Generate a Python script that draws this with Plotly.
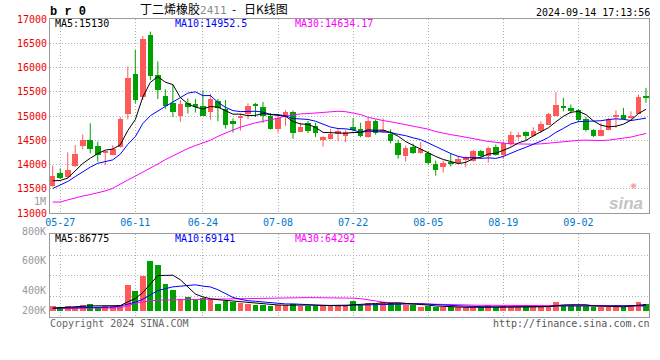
import plotly.graph_objects as go

# ---------------- data ----------------
dates = ["05-24", "05-27", "05-28", "05-29", "05-30", "05-31", "06-03", "06-04", "06-05", "06-06",
         "06-07", "06-11", "06-12", "06-13", "06-14", "06-17", "06-18", "06-19", "06-20", "06-21",
         "06-24", "06-25", "06-26", "06-27", "06-28", "07-01", "07-02", "07-03", "07-04", "07-05",
         "07-08", "07-09", "07-10", "07-11", "07-12", "07-15", "07-16", "07-17", "07-18", "07-19",
         "07-22", "07-23", "07-24", "07-25", "07-26", "07-29", "07-30", "07-31", "08-01", "08-02",
         "08-05", "08-06", "08-07", "08-08", "08-09", "08-12", "08-13", "08-14", "08-15", "08-16",
         "08-19", "08-20", "08-21", "08-22", "08-23", "08-26", "08-27", "08-28", "08-29", "08-30",
         "09-02", "09-03", "09-04", "09-05", "09-06", "09-09", "09-10", "09-11", "09-12", "09-13"]

opens = [13550, 13820, 13740, 13960, 14390, 14500, 14380, 14245, 14200, 14370,
         15040, 15860, 15390, 16660, 15840, 15410, 15270, 15000, 15260, 15240,
         15200, 15077, 15305, 15150, 14900, 14950, 15050, 15250, 15190, 15010,
         14730, 14980, 15080, 14680, 14850, 14800, 14510, 14530, 14620, 14590,
         14770, 14740, 14560, 14900, 14690, 14630, 14440, 14180, 14370, 14235,
         14240, 14010, 13940, 14040, 14040, 14100, 14080, 14280, 14170, 14370,
         14200, 14428, 14560, 14663, 14580, 14697, 14822, 15008, 15215, 15167,
         15132, 14939, 14718, 14594, 14718, 14980, 15029, 14973, 15049, 15408]
highs = [13980, 13920, 14250, 14400, 14620, 14850, 14470, 14255, 14400, 14980,
         16020, 16360, 16650, 16740, 16130, 15550, 15650, 15330, 15360, 15350,
         15530, 15460, 15353, 15330, 14950, 15050, 15260, 15270, 15290, 15060,
         15030, 15120, 15110, 14860, 14900, 14860, 14580, 14730, 14730, 14720,
         14960, 14860, 14960, 14925, 14950, 14725, 14510, 14390, 14430, 14460,
         14270, 14080, 14080, 14235, 14180, 14170, 14300, 14300, 14370, 14410,
         14477, 14684, 14663, 14684, 14767, 14891, 15063, 15491, 15374, 15236,
         15146, 14980, 14732, 14856, 14960, 15118, 15167, 15098, 15443, 15581]
lows = [13540, 13700, 13720, 13950, 14310, 14230, 14060, 13990, 14190, 14350,
        14930, 15260, 15330, 15740, 15350, 15150, 14980, 14880, 15050, 15070,
        15000, 14925, 14890, 14740, 14660, 14700, 14940, 14980, 14860, 14720,
        14660, 14800, 14530, 14670, 14650, 14570, 14370, 14510, 14480, 14460,
        14680, 14560, 14546, 14615, 14650, 14435, 14120, 14060, 14220, 14220,
        13990, 13770, 13835, 13960, 14010, 13945, 14060, 14130, 14040, 14180,
        14111, 14373, 14511, 14498, 14567, 14649, 14822, 15008, 15098, 15049,
        14870, 14684, 14567, 14580, 14704, 14753, 14925, 14925, 15049, 15270]
closes = [13770, 13730, 13890, 14210, 14500, 14320, 14200, 14252, 14320, 14940,
          15790, 15330, 16580, 15830, 15530, 15210, 15090, 15240, 15180, 15200,
          15010, 15353, 15167, 14820, 14840, 15010, 15200, 15200, 15010, 14730,
          14960, 15080, 14640, 14770, 14690, 14640, 14570, 14630, 14700, 14680,
          14720, 14580, 14900, 14640, 14710, 14476, 14190, 14350, 14240, 14320,
          14040, 13880, 14040, 14015, 14120, 14160, 14280, 14170, 14350, 14200,
          14442, 14615, 14615, 14594, 14697, 14836, 15042, 15236, 15160, 15111,
          14925, 14718, 14580, 14718, 14939, 14990, 14930, 14994, 15400, 15380]
volumes = [66000, 48000, 66000, 48000, 80000, 94000, 48000, 66000, 66000, 80000,
           360000, 276000, 486000, 696000, 640000, 374000, 290000, 164000, 188000, 150000,
           174000, 164000, 94000, 136000, 126000, 112000, 94000, 80000, 80000, 66000,
           80000, 80000, 94000, 70000, 70000, 66000, 66000, 66000, 66000, 80000,
           136000, 80000, 112000, 94000, 126000, 104000, 112000, 80000, 80000, 56000,
           66000, 48000, 48000, 48000, 48000, 48000, 48000, 48000, 80000, 48000,
           66000, 48000, 48000, 48000, 66000, 66000, 66000, 126000, 80000, 80000,
           66000, 66000, 48000, 48000, 48000, 80000, 48000, 80000, 126000, 94000]

# moving-average values before a full window exists
ma5_head = [13665, 13670, 13720, 13875]
ma10_head = [13505, 13570, 13650, 13750, 13855, 13945, 14025, 14060, 14095]
ma30_head = [13226, 13226, 13270, 13315, 13350, 13380, 13410, 13455, 13510, 13600,
             13680, 13760, 13840, 13930, 14010, 14100, 14180, 14260, 14330, 14390,
             14440, 14500, 14580, 14650, 14710, 14770, 14820, 14860, 14890]
vol_ma5_head = [36000, 40000, 46000, 52000]
vol_ma10_head = [34000, 35000, 36000, 37000, 38000, 40000, 42000, 46000, 52000]
vol_ma30_head = [32000, 32000, 32000, 32000, 32000, 32000, 32000, 32000, 32000, 40000,
                 70000, 105000, 125000, 140000, 148000, 150000, 152000, 154000, 156000, 158000,
                 160000, 162000, 164000, 166000, 168000, 170000, 172000, 175000, 178000]

tick_labels = ["05-27", "06-11", "06-24", "07-08", "07-22", "08-05", "08-19", "09-02"]
price_ticks = [13000, 13500, 14000, 14500, 15000, 15500, 16000, 16500, 17000]
vol_labels = ["800K", "600K", "400K", "200K"]

title_name = "丁二烯橡胶"
title_code = "2411"
title_tail = "日K线图"
timestamp = "2024-09-14 17:13:56"
ma_texts = ["MA5:15130", "MA10:14952.5", "MA30:14634.17"]
vol_ma_texts = ["MA5:86775", "MA10:69141", "MA30:64292"]

# ---------------- styles ----------------
RED = "#ff5a5a"
GREEN = "#00a000"
MONO = "DejaVu Sans Mono"
GRID = "#b0b0b0"
FRAME = "#9a9a9a"


def moving_average(values, n, head):
    out = list(head)
    for i in range(len(head), len(values)):
        out.append(sum(values[i - n + 1:i + 1]) / n)
    return out


idx = list(range(len(dates)))
up = [c >= o for o, c in zip(opens, closes)]
colors = [RED if u else GREEN for u in up]

fig = go.Figure()

# wicks
for flag, col in ((True, RED), (False, GREEN)):
    wx, wy = [], []
    for i in idx:
        if up[i] == flag:
            wx += [i, i, None]
            wy += [lows[i], highs[i], None]
    fig.add_trace(go.Scatter(x=wx, y=wy, mode="lines", line=dict(color=col, width=1),
                             hoverinfo="skip", xaxis="x", yaxis="y"))

# bodies
fig.add_trace(go.Bar(x=idx,
                     base=[min(o, c) for o, c in zip(opens, closes)],
                     y=[max(abs(c - o), 22) for o, c in zip(opens, closes)],
                     marker=dict(color=colors, line=dict(width=0)), width=0.74,
                     xaxis="x", yaxis="y"))

# price moving averages
for ma, col in ((moving_average(closes, 30, ma30_head), "#ff00ff"),
                (moving_average(closes, 10, ma10_head), "#0000ff"),
                (moving_average(closes, 5, ma5_head), "#000000")):
    fig.add_trace(go.Scatter(x=idx, y=ma, mode="lines", line=dict(color=col, width=1),
                             xaxis="x", yaxis="y"))

# volume
fig.add_trace(go.Bar(x=idx, y=volumes, marker=dict(color=colors, line=dict(width=0)),
                     width=0.76, xaxis="x2", yaxis="y2"))
for ma, col in ((moving_average(volumes, 30, vol_ma30_head), "#ff00ff"),
                (moving_average(volumes, 10, vol_ma10_head), "#0000ff"),
                (moving_average(volumes, 5, vol_ma5_head), "#000000")):
    fig.add_trace(go.Scatter(x=idx, y=ma, mode="lines", line=dict(color=col, width=1),
                             xaxis="x2", yaxis="y2"))

tick_pos = [dates.index(t) for t in tick_labels]

common_x = dict(range=[-0.36, 79.4], tickmode="array", tickvals=tick_pos,
                showgrid=True, gridcolor=GRID, griddash="1px,2px", gridwidth=1,
                showline=True, linecolor=FRAME, linewidth=1, mirror=True,
                ticks="", zeroline=False, fixedrange=True)

L, R, T, B = 50, 11, 19, 43
W, H = 660, 360
PW, PH = W - L - R, H - T - B


def px_x(px):
    return (px - L) / PW


def px_y(py):
    return (H - B - py) / PH


fig.update_layout(
    width=W, height=H,
    margin=dict(l=L, r=R, t=T, b=B, pad=0),
    paper_bgcolor="white", plot_bgcolor="white",
    showlegend=False, barmode="overlay", bargap=0,
    xaxis=dict(common_x, anchor="y", ticktext=tick_labels,
               tickfont=dict(family=MONO, size=10, color="#0077cc")),
    xaxis2=dict(common_x, anchor="y2", matches="x", showticklabels=False),
    yaxis=dict(domain=[px_y(213), 1], range=[13000, 17000], tickmode="array",
               tickvals=price_ticks, ticktext=[str(v) for v in price_ticks],
               tickfont=dict(family=MONO, size=10, color="#ee0000"),
               showgrid=True, gridcolor=GRID, griddash="1px,2px", gridwidth=1,
               showline=True, linecolor=FRAME, linewidth=1, mirror=True,
               ticks="", zeroline=False, fixedrange=True),
    yaxis2=dict(domain=[0, px_y(234)], range=[-88200, 1073800], tickmode="array",
                tickvals=[205800, 499800, 779800], showticklabels=False,
                showgrid=True, gridcolor=GRID, griddash="1px,2px", gridwidth=1,
                showline=True, linecolor=FRAME, linewidth=1, mirror=True,
                ticks="", zeroline=False, fixedrange=True),
)


def note(text, px, py, color="#000000", size=10, xanchor="left", family=MONO, **kw):
    fig.add_annotation(text=text, x=px_x(px), y=px_y(py), xref="paper", yref="paper",
                       xanchor=xanchor, yanchor="middle", showarrow=False,
                       font=dict(family=family, size=size, color=color), borderpad=0, **kw)


NB = "\u00a0"
note("<b>b r 0</b>", 49, 11.5, size=12, family="Liberation Mono")
note(title_name + '<span style="font-family:DejaVu Sans Mono;font-size:11px;color:#8a8a8a">'
     + title_code + "</span>" + NB * 2 + "-" + NB * 3 + title_tail, 139, 8.5, size=12,
     family="Noto Sans CJK SC")
note(timestamp, 535, 12)

note(ma_texts[0], 54, 23.5, "#000000")
note(ma_texts[1], 174, 23.5, "#0000ff")
note(ma_texts[2], 294, 23.5, "#ff00ff")

note("1M", 47, 201, "#999999", xanchor="right")
for lab, py in zip(vol_labels, (231, 260, 290, 310)):
    note(lab, 47, py, "#999999", xanchor="right")

note(vol_ma_texts[0], 54, 238.5, "#000000")
note(vol_ma_texts[1], 174, 238.5, "#0000ff")
note(vol_ma_texts[2], 294, 238.5, "#ff00ff")

note("Copyright 2024 SINA.COM", 49, 323.5, "#666666")
note("http://finance.sina.com.cn", 492, 323.5, "#555555")

# sina watermark
note("<i><b>sina</b></i>", 626, 203, "#c4c4c4", size=17, xanchor="center",
     family="Liberation Sans")
note("◉", 633, 185, "#f2a3a3", size=8, xanchor="center", family="DejaVu Sans")

fig.write_html("out.html", config={"displayModeBar": False},
               post_script="document.body.style.margin='0';document.body.style.padding='0';")
